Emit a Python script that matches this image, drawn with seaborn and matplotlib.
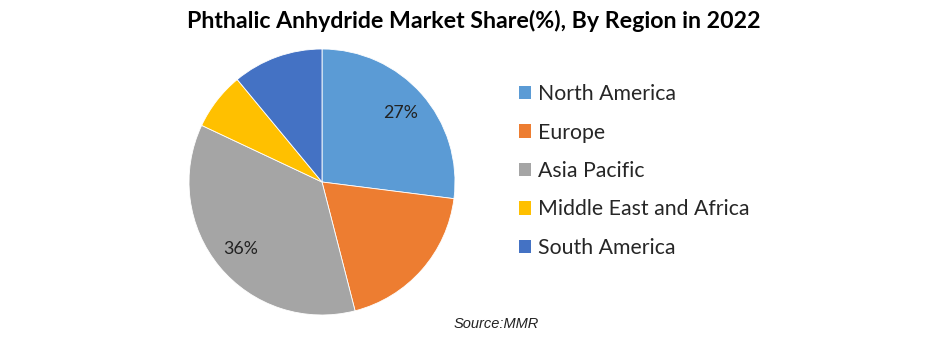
import matplotlib
matplotlib.use("Agg")
import matplotlib.pyplot as plt
import seaborn as sns
from matplotlib.patches import Patch

regions = ["North America", "Europe", "Asia Pacific", "Middle East and Africa", "South America"]
shares = [27, 19, 36, 7, 11]
shown_labels = [True, False, True, False, False]
colors = ["#5B9BD5", "#ED7D31", "#A5A5A5", "#FFC000", "#4472C4"]

sns.set_theme(style="white")
plt.rcParams['font.family'] = ['Lato', 'DejaVu Sans']
pal = sns.color_palette(colors)

W, H = 932, 341
fig = plt.figure(figsize=(W / 100, H / 100), dpi=100)
cx, cy, r = 322, 182, 133
ax = fig.add_axes([(cx - r) / W, (H - cy - r) / H, 2 * r / W, 2 * r / H])

it = iter(range(len(shares)))
def fmt(p):
    i = next(it)
    return f"{shares[i]}%" if shown_labels[i] else ""

wedges, texts, autotexts = ax.pie(
    shares, colors=pal, startangle=90, counterclock=False,
    autopct=fmt, pctdistance=0.79,
    wedgeprops=dict(edgecolor="white", linewidth=0.6),
    textprops=dict(fontsize=12.8, color="#222222"),
)
ax.set_aspect("equal")
ax.set_xlim(-1, 1)
ax.set_ylim(-1, 1)
ax.axis("off")

fig.text(474 / W, 1 - 21 / H, "Phthalic Anhydride Market Share(%), By Region in 2022",
         ha="center", va="center", fontsize=16.7, fontweight="bold", color="black")

handles = [Patch(facecolor=c, edgecolor="none") for c in pal]
fig.legend(handles, regions, loc="center left", bbox_to_anchor=(519 / W, 1 - 171 / H),
           frameon=False, fontsize=15.3, handlelength=0.58, handleheight=0.58,
           handletextpad=0.33, labelspacing=0.87, borderaxespad=0, borderpad=0)

fig.text(496 / W, 1 - 324 / H, "Source:MMR", ha="center", va="center",
         fontsize=10.5, style="italic", family=["Liberation Sans", "DejaVu Sans"], color="#222222")

fig.savefig("out.png", dpi=100, facecolor="white")
